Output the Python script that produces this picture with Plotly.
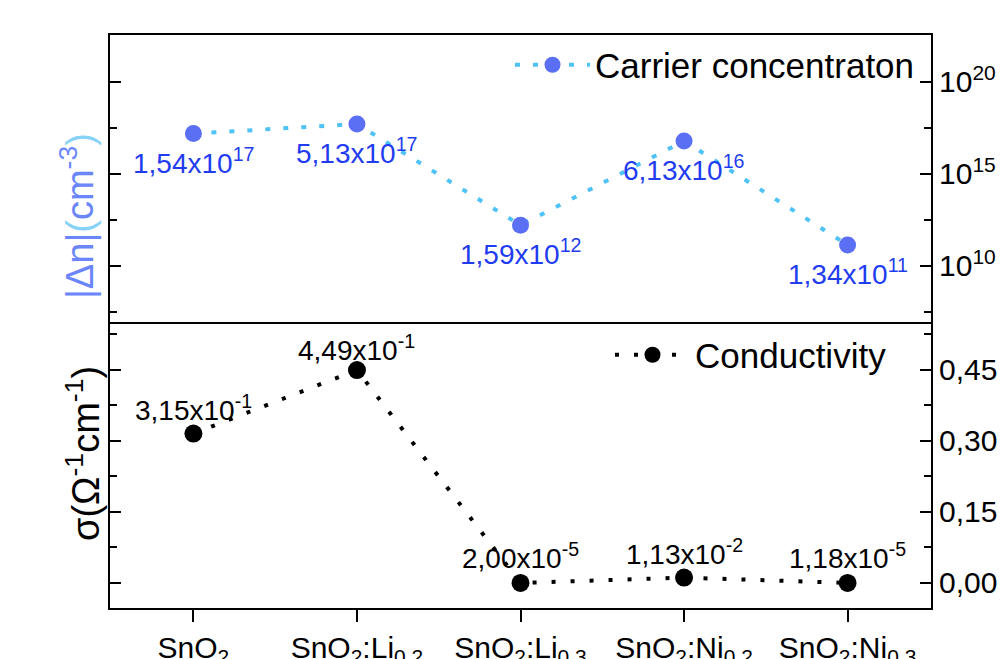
import math
import plotly.graph_objects as go

categories = ["SnO<sub>2</sub>", "SnO<sub>2</sub>:Li<sub>0,2</sub>", "SnO<sub>2</sub>:Li<sub>0,3</sub>",
              "SnO<sub>2</sub>:Ni<sub>0,2</sub>", "SnO<sub>2</sub>:Ni<sub>0,3</sub>"]
carrier = [1.54e17, 5.13e17, 1.59e12, 6.13e16, 1.34e11]
carrier_labels = ["1,54x10<sup>17</sup>", "5,13x10<sup>17</sup>", "1,59x10<sup>12</sup>",
                  "6,13x10<sup>16</sup>", "1,34x10<sup>11</sup>"]
conductivity = [0.315, 0.449, 2.00e-5, 1.13e-2, 1.18e-5]
conductivity_labels = ["3,15x10<sup>-1</sup>", "4,49x10<sup>-1</sup>", "2,00x10<sup>-5</sup>",
                       "1,13x10<sup>-2</sup>", "1,18x10<sup>-5</sup>"]
top_tickvals = [1e10, 1e15, 1e20]
top_ticktext = ["10<sup>10</sup>", "10<sup>15</sup>", "10<sup>20</sup>"]
bot_tickvals = [0.0, 0.15, 0.30, 0.45]
bot_ticktext = ["0,00", "0,15", "0,30", "0,45"]

FONT = "Liberation Sans, Arial, sans-serif"
xs = list(range(len(categories)))

fig = go.Figure()
fig.add_trace(go.Scatter(
    x=xs, y=carrier, xaxis="x2", yaxis="y2", mode="lines+markers",
    name="Carrier concentraton", legend="legend", showlegend=True,
    line=dict(color="#4fc3f7", width=4, dash="5px,13px"),
    marker=dict(color="#5b6ff5", size=17)))
fig.add_trace(go.Scatter(
    x=xs, y=conductivity, xaxis="x", yaxis="y", mode="lines+markers",
    name="Conductivity", legend="legend2", showlegend=True,
    line=dict(color="black", width=4, dash="4px,15px"),
    marker=dict(color="black", size=18)))

annotations = []
for i, (v, t) in enumerate(zip(carrier, carrier_labels)):
    annotations.append(dict(x=i, y=math.log10(v), xref="x2", yref="y2", text=t, showarrow=False,
                            yshift=-27, font=dict(family=FONT, size=28, color="#1f3cf0")))
lab_shift = [26, 22, 27, 26, 27]
for i, (v, t) in enumerate(zip(conductivity, conductivity_labels)):
    annotations.append(dict(x=i, y=v, xref="x", yref="y", text=t, showarrow=False,
                            yshift=lab_shift[i], font=dict(family=FONT, size=28, color="black")))
# axis titles as annotations (left side)
annotations.append(dict(
    x=(77 - 110) / 821, y=1 - (216 - 35) / 573, xref="paper", yref="paper",
    xanchor="center", yanchor="middle",
    text="<span style='color:#6a86fa'>|\u0394n|</span><span style='color:#86d3f7'>(</span>"
         "<span style='color:#6a86fa'>cm<sup>-3</sup></span><span style='color:#86d3f7'>)</span>",
    textangle=-90, showarrow=False, font=dict(family=FONT, size=38)))
annotations.append(dict(
    x=(83 - 110) / 821, y=1 - (454 - 35) / 573, xref="paper", yref="paper",
    xanchor="center", yanchor="middle",
    text="\u03c3(\u03a9<sup>-1</sup>cm<sup>-1</sup>)",
    textangle=-90, showarrow=False, font=dict(family=FONT, size=38, color="black")))

axis_common = dict(showline=True, linecolor="black", linewidth=2, showgrid=False,
                   zeroline=False, automargin=False)

fig.update_layout(
    width=1003, height=659,
    margin=dict(l=110, r=72, t=35, b=51),
    paper_bgcolor="white", plot_bgcolor="white",
    font=dict(family=FONT, color="black"),
    showlegend=True,
    xaxis=dict(**axis_common, anchor="y", domain=[0, 1], range=[-0.51, 4.51],
               tickvals=xs, ticktext=categories, ticks="outside", ticklen=12, tickwidth=2,
               tickcolor="black", mirror=False, tickfont=dict(size=30, family=FONT)),
    xaxis2=dict(**axis_common, anchor="y2", matches="x", range=[-0.51, 4.51],
                showticklabels=False, ticks="", mirror=True),
    yaxis=dict(**axis_common, domain=[0, 0.5], side="right", range=[-0.0528, 0.5514],
               tickvals=bot_tickvals, ticktext=bot_ticktext, ticks="inside", ticklen=11,
               tickwidth=2, tickcolor="black", mirror="ticks",
               tickfont=dict(size=30, family=FONT),
               minor=dict(tickvals=[0.075, 0.225, 0.375, 0.525], ticks="inside", ticklen=7,
                          tickwidth=2, tickcolor="black")),
    yaxis2=dict(**axis_common, domain=[0.5, 1], side="right", type="log", range=[6.96, 22.554],
                tickvals=top_tickvals, ticktext=top_ticktext, ticks="inside", ticklen=11,
                tickwidth=2, tickcolor="black", mirror="ticks",
                tickfont=dict(size=30, family=FONT),
                minor=dict(tickvals=[10**7.5, 10**12.5, 10**17.5, 10**22.5], ticks="inside",
                           ticklen=7, tickwidth=2, tickcolor="black")),
    legend=dict(x=(510 - 110) / 821, y=1 - (65 - 35) / 573, xanchor="left", yanchor="middle",
                itemwidth=75,
                bgcolor="rgba(0,0,0,0)", font=dict(size=35, family=FONT, color="black")),
    legend2=dict(x=(610 - 110) / 821, y=1 - (355 - 35) / 573, xanchor="left", yanchor="middle",
                 itemwidth=75,
                 bgcolor="rgba(0,0,0,0)", font=dict(size=35, family=FONT, color="black")),
    annotations=annotations,
)

fig.write_html("out.html")
